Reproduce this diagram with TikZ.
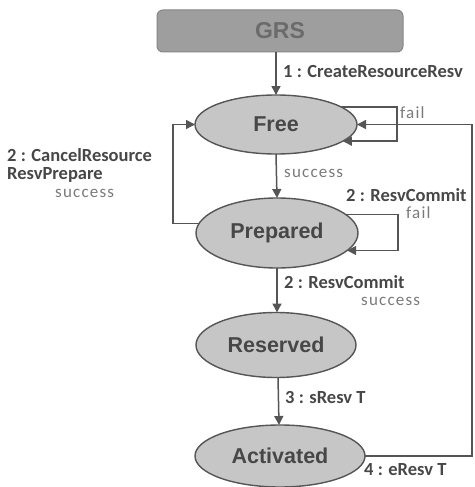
\documentclass[tikz,border=0pt]{standalone}
\usepackage{fontspec}
\setmainfont{Carlito}
\newfontfamily\statefont{Liberation Sans}
\newfontfamily\notefont[LetterSpace=7]{Carlito}
\usetikzlibrary{arrows.meta,shapes.geometric}
\definecolor{linegray}{HTML}{555555}
\definecolor{fillgray}{HTML}{C6C6C6}
\definecolor{boxgray}{HTML}{9E9E9E}
\definecolor{textdark}{HTML}{474747}
\definecolor{textlight}{HTML}{7A7A7A}
\tikzset{
  state/.style={ellipse, draw=linegray, fill=fillgray, line width=1.4pt,
    inner sep=0pt, outer sep=0pt, text=textdark,
    font=\statefont\bfseries\fontsize{21.5}{24}\selectfont},
  conn/.style={draw=linegray, line width=1.5pt,
    -{Triangle[length=9pt,width=9pt]}},
  lbl/.style={anchor=west, inner sep=0pt, text=textdark,
    font=\bfseries\fontsize{18.5}{20}\selectfont},
  note/.style={anchor=west, inner sep=0pt, text=textlight,
    font=\notefont\fontsize{17}{18}\selectfont},
}
\begin{document}
\begin{tikzpicture}[x=1pt,y=-1pt]
\useasboundingbox (0,0) rectangle (474,487);
% GRS header box
\node[draw=boxgray!85!black, fill=boxgray, rounded corners=6pt, line width=1pt,
  minimum width=246pt, minimum height=42pt, inner sep=0pt,
  text=black!58, font=\statefont\bfseries\fontsize{23}{25}\selectfont]
  (grs) at (280,31) {GRS};
% states
\node[state, minimum width=162pt, minimum height=59pt] (free) at (276,124.5) {Free};
\node[state, minimum width=162pt, minimum height=70pt] (prep) at (277,233) {Prepared};
\node[state, minimum width=160pt, minimum height=65pt] (resv) at (276,345) {Reserved};
\node[state, minimum width=170pt, minimum height=62pt] (act) at (280,456) {Activated};
% helper points for the loops
\coordinate (fl) at (397,0);
\coordinate (pl) at (398,0);
\coordinate (ll) at (173,0);
\coordinate (rr) at (472,0);
% main transitions
\draw[conn] (grs.south -| free.north) -- (free.north);
\draw[conn] (free.south) -- (prep.north);
\draw[conn] (prep.south -| resv.north) ++(1,0) -- ([xshift=1pt]resv.north);
\draw[conn] (resv.south) ++(2,0) -- ([xshift=-1pt]act.north);
% self loops
\draw[conn] (free.15) -- (free.15 -| fl) |- (free.-14);
\draw[conn] (prep.15) -- (prep.15 -| pl) |- (prep.-14);
% cancel back to Free
\draw[conn] (prep.173) -- (prep.173 -| ll) |- (free.west);
% return from Activated
\draw[conn] (act.east) -- (act.east -| rr) |- (free.east);
% labels
\node[lbl] (t1) at (283,72) {1 : CreateResourceResv};
\node[note] (f1) at (400,113) {fail};
\node[note] (s1) at (284,173) {success};
\node[lbl] (c1) at (346,195) {2 : ResvCommit};
\node[note] (f2) at (406,213) {fail};
\node[lbl] (c2) at (284,282) {2 : ResvCommit};
\node[note] (s2) at (361,301) {success};
\node[lbl] (t3) at (285,397) {3 : sResv T};
\node[lbl] (t4) at (364,470) {4 : eResv T};
\node[lbl, anchor=north west, align=left,
  font=\bfseries\fontsize{18.5}{18}\selectfont]
  (x1) at (7,148) {2 : CancelResource\\ResvPrepare};
\node[note] (s3) at (55,193) {success};
\end{tikzpicture}
\end{document}
